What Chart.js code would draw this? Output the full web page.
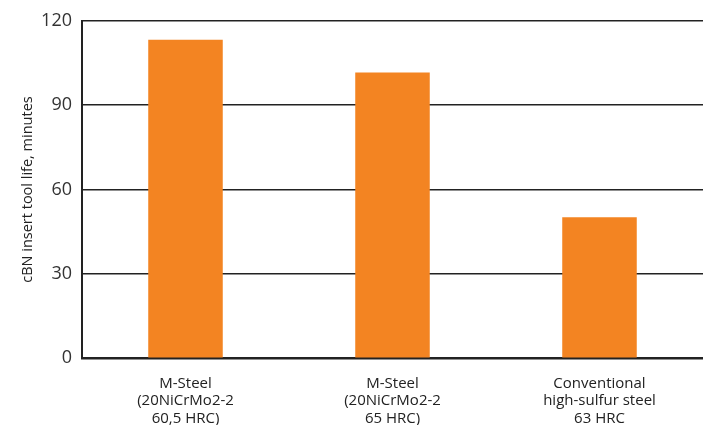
<!DOCTYPE html>
<html>
<head>
<meta charset="utf-8">
<script src="https://cdn.jsdelivr.net/npm/chart.js@4"></script>
<style>
  html, body { margin: 0; padding: 0; background: #fff; }
  #wrap { width: 703px; height: 425px; }
</style>
</head>
<body>
<div id="wrap"><canvas id="toolChart"></canvas></div>
<script>
const categories = [
    ["M-Steel", "(20NiCrMo2-2", "60,5 HRC)"],
    ["M-Steel", "(20NiCrMo2-2", "65 HRC)"],
    ["Conventional", "high-sulfur steel", "63 HRC"]
];
const toolLife = [113.3, 101.6, 50.1];
const yTicks = [0, 30, 60, 90, 120];

new Chart(document.getElementById("toolChart"), {

    type: "bar",

    data: {
        labels: categories,
        datasets: [{
            label: "cBN insert tool life",
            data: toolLife,
            backgroundColor: "#F38422",
            categoryPercentage: 0.36,
            barPercentage: 1
        }]
    },

    options: {
        responsive: true,
        maintainAspectRatio: false,
        animation: false,
        layout: {
            padding: { top: 2, right: 0, left: 0, bottom: -11 }
        },
        plugins: {
            legend: { display: false },
            tooltip: { enabled: false }
        },
        scales: {
            x: {
                grid: { display: false },
                border: { display: true, color: "#222", width: 2 },
                ticks: {
                    color: "#222",
                    padding: 9,
                    font: { family: "Open Sans", size: 15, lineHeight: 1.15 }
                }
            },
            y: {
                min: 0,
                max: 120,
                afterBuildTicks: axis => {
                    axis.ticks = yTicks.map(v => ({ value: v }));
                },
                afterFit: axis => {
                    axis.width = 82;
                },
                grid: {
                    color: "#222",
                    lineWidth: 1.5,
                    drawTicks: false
                },
                border: { display: true, color: "#222", width: 2 },
                ticks: {
                    color: "#333",
                    padding: 10,
                    font: { family: "Open Sans", size: 18 }
                },
                title: {
                    display: true,
                    text: "cBN insert tool life, minutes",
                    color: "#222",
                    padding: { top: 19, bottom: 0 },
                    font: { family: "Open Sans", size: 14.5 }
                }
            }
        }
    }

});
</script>
</body>
</html>
